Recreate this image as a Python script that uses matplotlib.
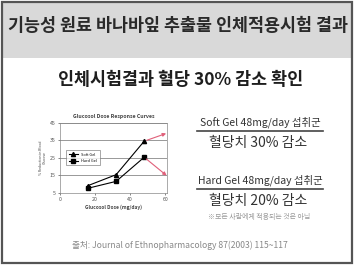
import matplotlib.pyplot as plt
from matplotlib.patches import Rectangle

plt.rcParams['font.family'] = ['Noto Sans CJK KR', 'DejaVu Sans']

W, H = 357, 272

dose = [16, 32, 48]
soft_gel = [9.2, 15.4, 34.4]
hard_gel = [7.7, 11.6, 25.3]
ext_dose = [48, 62]
soft_ext = [34.4, 39.3]
hard_ext = [25.3, 13.9]
yticks = [5, 15, 25, 35, 45]
xticks = [0, 20, 40, 60]

header = "기능성 원료 바나바잎 추출물 인체적용시험 결과"
headline = "인체시험결과 혈당 30% 감소 확인"
soft_label = "Soft Gel 48mg/day 섭취군"
soft_result = "혈당치 30% 감소"
hard_label = "Hard Gel 48mg/day 섭취군"
hard_result = "혈당치 20% 감소"
note = "※모든 사람에게 적용되는 것은 아님"
source = "출처: Journal of Ethnopharmacology 87(2003) 115~117"


def fx(x):
    return x / W


def fy(y):
    return 1 - y / H


fig = plt.figure(figsize=(W / 100, H / 100), dpi=100)
fig.patch.set_facecolor("white")

# header band and frame
fig.patches.append(Rectangle((fx(2), fy(58)), fx(350), 56 / H, transform=fig.transFigure,
                             facecolor="#d9d9d9", edgecolor="none"))
fig.patches.append(Rectangle((fx(2), fy(263)), fx(350), 261 / H, transform=fig.transFigure,
                             facecolor="none", edgecolor="#555555", linewidth=1.6))
fig.text(fx(178), fy(26), header, ha="center", va="center", fontsize=12.5,
         fontweight="bold", color="#2a2a2a")
fig.text(fx(181), fy(80), headline, ha="center", va="center", fontsize=12.5,
         fontweight="bold", color="#1e1e1e")

# chart
ax = fig.add_axes([fx(60), fy(193), fx(167) - fx(60), (193 - 122.5) / H])
ax.plot(dose, soft_gel, color="black", lw=0.8, marker="^", ms=3, label="Soft Gel")
ax.plot(dose, hard_gel, color="black", lw=0.8, marker="s", ms=3, label="Hard Gel")
ax.annotate("", xy=(ext_dose[1], soft_ext[1]), xytext=(ext_dose[0], soft_ext[0]),
            arrowprops=dict(arrowstyle="-|>", color="#e0607a", lw=0.8, mutation_scale=5),
            annotation_clip=False)
ax.annotate("", xy=(ext_dose[1], hard_ext[1]), xytext=(ext_dose[0], hard_ext[0]),
            arrowprops=dict(arrowstyle="-|>", color="#e0607a", lw=0.8, mutation_scale=5),
            annotation_clip=False)
ax.set_xlim(0, 61)
ax.set_ylim(5, 45)
ax.set_xticks(xticks)
ax.set_yticks(yticks)
ax.tick_params(labelsize=3.8, length=1.5, width=0.5, pad=1.5, colors="#555555")
ax.yaxis.grid(True, color="#888888", lw=0.6)
for s in ax.spines.values():
    s.set_linewidth(0.5)
    s.set_color("#888888")
ax.set_title("Glucosol Dose Response Curves", fontsize=3.8, pad=3, fontweight="bold",
             color="#444444")
ax.set_xlabel("Glucosol Dose (mg/day)", fontsize=3.5, labelpad=2, fontweight="bold",
              color="#444444")
ax.set_ylabel("% Reduction in Blood\nGlucose", fontsize=2.5, labelpad=2, color="#444444")
leg = ax.legend(loc="center left", bbox_to_anchor=(0.04, 0.5), fontsize=2.8,
                frameon=True, fancybox=False, edgecolor="#666666", handlelength=2.5,
                borderpad=0.6, labelspacing=0.6)
leg.get_frame().set_linewidth(0.5)

# right side texts
for y, label, res in [(122, soft_label, soft_result), (180, hard_label, hard_result)]:
    fig.text(fx(260), fy(y), label, ha="center", va="center", fontsize=7.5,
             color="#333333")
    fig.lines.append(plt.Line2D([fx(197), fx(323)], [fy(y + 9)] * 2,
                                transform=fig.transFigure, color="#444444", lw=1.2))
    fig.text(fx(258), fy(y + 21), res, ha="center", va="center", fontsize=10,
             color="#333333")
fig.text(fx(259), fy(217), note, ha="center", va="center", fontsize=5, color="#999999")
fig.text(fx(180), fy(245), source, ha="center", va="center", fontsize=6.2, color="#888888")

fig.savefig("out.png", dpi=100, facecolor="white")
